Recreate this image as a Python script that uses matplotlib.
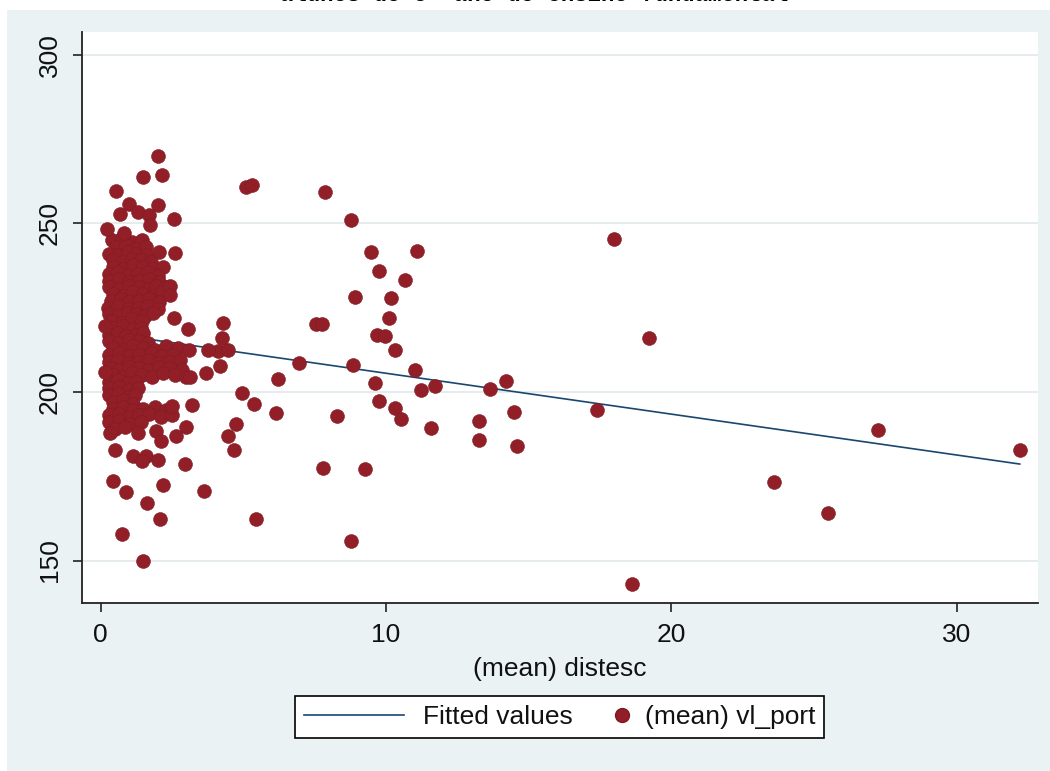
#!/usr/bin/env python3
"""Scatter of mean vl_port against mean distesc with linear fit (Stata s2color look)."""

import matplotlib

matplotlib.use("Agg")
import matplotlib.pyplot as plt
from matplotlib.legend_handler import HandlerLine2D
from matplotlib.lines import Line2D
from matplotlib.patches import Rectangle

plt.rcParams["font.family"] = ["Liberation Sans", "DejaVu Sans"]

TITLE = "alunos do 5º ano do ensino fundamental"
X_LABEL = "(mean) distesc"
FIT_LABEL = "Fitted values"
SCATTER_LABEL = "(mean) vl_port"

X_TICKS = [0, 10, 20, 30]
Y_TICKS = [150, 200, 250, 300]

# dense block of schools close to x = 0..3 (overlapping)
core_dist = [
    0.4, 0.75, 1.1, 1.45,
    0.55, 0.9, 1.25, 1.6,
    0.3, 0.6, 0.95, 1.25, 1.6, 2.05,
    0.45, 0.8, 1.1, 1.4, 1.75,
    0.45, 0.8, 1.15, 1.5, 1.85, 2.2,
    0.3, 0.6, 0.95, 1.3, 1.65, 2.0,
    0.3, 0.65, 1.0, 1.35, 1.7, 2.05,
    0.3, 0.65, 1.0, 1.35, 1.65, 1.95, 2.3,
    0.45, 0.8, 1.15, 1.5, 1.85, 2.15,
    0.35, 0.7, 1.0, 1.35, 1.7, 2.05,
    0.25, 0.6, 0.95, 1.3, 1.65, 2.0,
    0.3, 0.6, 0.95, 1.25, 1.55, 1.85,
    0.4, 0.75, 1.1, 1.45,
    0.45, 0.8, 1.15, 1.4,
    0.3, 0.6, 0.9, 1.25, 1.5,
    0.3, 0.65, 1.0, 1.35, 1.65,
    0.45, 0.8, 1.15, 1.5, 1.9, 2.3, 2.7,
    0.3, 0.65, 1.0, 1.35, 1.75, 2.15, 2.55,
    0.3, 0.6, 0.95, 1.3, 1.65, 2.0, 2.4, 2.8,
    0.35, 0.65, 1.0, 1.35, 1.65, 2.05, 2.45, 2.85,
    0.45, 0.8, 1.1, 1.45, 1.8, 2.2, 2.6, 3.0,
    0.3, 0.6, 0.95, 1.25,
    0.3, 0.65, 1.0, 1.3,
    0.3, 0.6, 0.95, 1.2,
    0.45, 0.8, 1.15,
    0.45, 0.8, 1.15, 1.5, 1.9, 2.3,
    0.3, 0.65, 1.0, 1.35, 1.7, 2.1, 2.5,
    0.3, 0.65, 1.0, 1.4,
    0.5, 0.85,
]
core_port = [
    245, 245.5, 244.5, 245,
    243, 243.5, 242.5, 243,
    241, 240.5, 241.5, 241, 240.5, 241.5,
    239, 238.5, 239.5, 239, 238.5,
    237, 236.5, 237.5, 237, 236.5, 237,
    235, 235.5, 234.5, 235, 235.5, 234.5,
    233, 233.5, 232.5, 233, 233.5, 232.5,
    231, 230.5, 231.5, 231, 230.5, 231.5, 231,
    229, 228.5, 229.5, 229, 228.5, 229.5,
    227, 227.5, 226.5, 227, 227.5, 226.5,
    225, 225.5, 224.5, 225, 225.5, 224.5,
    223, 222.5, 223.5, 223, 222.5, 223.5,
    221, 220.5, 221.5, 221,
    219, 219.5, 218.5, 219,
    217, 217.5, 216.5, 217, 217.5,
    215, 214.5, 215.5, 215, 214.5,
    213, 212.5, 213.5, 213, 212.5, 213.5, 213,
    211, 211.5, 210.5, 211, 211.5, 210.5, 211,
    209, 209.5, 208.5, 209, 209.5, 208.5, 209, 209.5,
    207, 206.5, 207.5, 207, 206.5, 207.5, 207, 206.5,
    205, 204.5, 205.5, 205, 204.5, 205.5, 205, 204.5,
    203, 203.5, 202.5, 203,
    201, 201.5, 200.5, 201,
    199, 199.5, 198.5, 199,
    197, 197.5, 196.5,
    195, 195.5, 194.5, 195, 195.5, 194.5,
    193, 193.5, 192.5, 193, 193.5, 192.5, 193,
    191, 191.5, 190.5, 191,
    189, 189.5,
]

# the more spread-out schools
outer_dist = [
    18.0, 19.2, 17.4, 27.25, 32.2, 23.6, 25.5, 18.6,
    7.88, 8.79, 9.49, 11.1, 9.77, 10.68, 8.93, 10.19, 10.12, 7.55, 7.75,
    9.67, 9.98, 10.33, 8.86, 11.03, 9.63, 14.19, 11.24, 11.73, 13.63,
    9.77, 10.33, 10.54, 8.3, 13.27, 14.5, 11.59, 13.27, 14.6, 7.81, 9.28, 8.76,
    5.11, 5.29, 6.94, 6.2, 4.94, 5.36, 6.13, 4.73, 4.45, 4.66, 5.43, 3.61,
    3.19, 3.68, 4.1, 4.45, 4.2, 4.3, 4.27, 3.75, 3.1, 3.15, 3.05, 3.0, 2.95,
    2.2, 1.64, 2.07, 0.74, 1.47, 0.42, 0.88, 0.32, 1.3, 1.95, 2.1, 2.63,
    0.49, 1.12, 1.58, 2.0, 1.45, 2.52,
    2.0, 1.5, 2.14, 0.53, 0.98, 2.0, 0.67, 1.3, 1.68, 2.56, 0.21, 0.81,
    1.72, 2.6, 2.45, 2.45, 2.56, 0.15, 0.15,
]
outer_port = [
    245.2, 216.0, 194.5, 188.6, 182.8, 173.4, 164.1, 143.1,
    259.2, 251.1, 241.4, 241.7, 235.9, 233.3, 228.0, 227.7, 221.9, 220.2, 220.2,
    216.9, 216.6, 212.5, 207.9, 206.4, 202.6, 203.2, 200.7, 201.6, 200.9,
    197.4, 195.3, 192.1, 192.7, 191.5, 193.9, 189.2, 185.7, 184.0, 177.5, 177.2, 155.9,
    260.7, 261.3, 208.5, 203.8, 199.7, 196.5, 193.6, 190.4, 186.9, 182.8, 162.4, 170.5,
    196.2, 205.5, 212.0, 212.5, 207.6, 220.4, 216.0, 212.5, 212.5, 204.4, 218.5, 189.5, 178.5,
    172.3, 167.0, 162.4, 158.0, 150.0, 173.5, 170.3, 187.7, 187.7, 188.3, 185.5, 186.9,
    182.8, 181.0, 181.0, 179.9, 179.5, 195.7,
    270.0, 263.6, 264.2, 259.5, 255.7, 255.4, 252.8, 253.4, 252.5, 251.4, 248.4, 247.0,
    249.6, 241.1, 231.5, 228.6, 221.9, 219.5, 206.0,
]

# ends of the fitted regression line
fit_dist = [0.2, 32.2]
fit_port = [217.4, 178.6]

NAVY = "#1a476f"
MAROON = "#921f28"
MAROON_EDGE = "#7e1b22"
BACKGROUND = "#eaf2f3"


class RightMarker(HandlerLine2D):
    """Put the legend marker at the right end of its handle box."""

    def get_xdata(self, legend, xdescent, ydescent, width, height, fontsize):
        right = -xdescent + width
        return [right - 5.0, right], [right - 2.5]


W, H = 1050, 771
fig = plt.figure(figsize=(W / 100, H / 100), dpi=100, facecolor="white")
fig.patches.append(
    Rectangle((7 / W, 0), 1 - 7 / W, 1 - 10 / H, transform=fig.transFigure,
              facecolor=BACKGROUND, edgecolor="none", zorder=-10)
)
# the title is cut off by the top edge in the original picture
fig.text(534 / W, 1 - 1 / H, TITLE, ha="center", va="baseline", fontsize=16,
         family="Liberation Mono", fontweight="bold")

ax = fig.add_axes([82 / W, 1 - 603 / H, (1038 - 82) / W, (603 - 32) / H])
ax.set_zorder(1)
ax.set_facecolor("white")

ax.plot(fit_dist, fit_port, color=NAVY, lw=1.2, zorder=2)
ax.scatter(core_dist + outer_dist, core_port + outer_port, s=100, color=MAROON,
           edgecolors=MAROON_EDGE, linewidths=0.4, zorder=3)

ax.set_xlim(-0.65, 32.84)
ax.set_ylim(137.4, 306.7)
ax.set_xticks(X_TICKS)
ax.set_yticks(Y_TICKS)
ax.yaxis.grid(True, color="#e4ebed", lw=1.3)
ax.set_axisbelow(True)
for side in ("top", "right"):
    ax.spines[side].set_visible(False)
for side in ("left", "bottom"):
    ax.spines[side].set_color("#222222")
    ax.spines[side].set_linewidth(1.3)
ax.tick_params(axis="both", length=6.5, width=1.2, color="#222222",
               labelsize=19, labelcolor="#111111")
ax.tick_params(axis="x", pad=8)
ax.tick_params(axis="y", pad=8)
plt.setp(ax.get_yticklabels(), rotation=90, va="center")
ax.set_xlabel(X_LABEL, fontsize=19, labelpad=7, color="#111111")

fit_handle = Line2D([], [], color=NAVY, lw=1.2)
dot_handle = Line2D([], [], ls="none", marker="o", markersize=10,
                    markerfacecolor=MAROON, markeredgecolor=MAROON_EDGE)
leg = fig.legend(
    [fit_handle, dot_handle], [FIT_LABEL, SCATTER_LABEL],
    loc="center", bbox_to_anchor=(559.5 / W, 1 - 717 / H), ncol=2,
    fontsize=19, frameon=True, fancybox=False, edgecolor="black",
    framealpha=1, borderpad=0.35, handlelength=3.8, handletextpad=0.72,
    columnspacing=-1.8, handler_map={dot_handle: RightMarker()},
)
leg.set_zorder(5)
leg.get_frame().set_linewidth(1.2)
for text in leg.get_texts():
    text.set_color("#111111")

fig.savefig("out.png", dpi=100, facecolor=fig.get_facecolor())
